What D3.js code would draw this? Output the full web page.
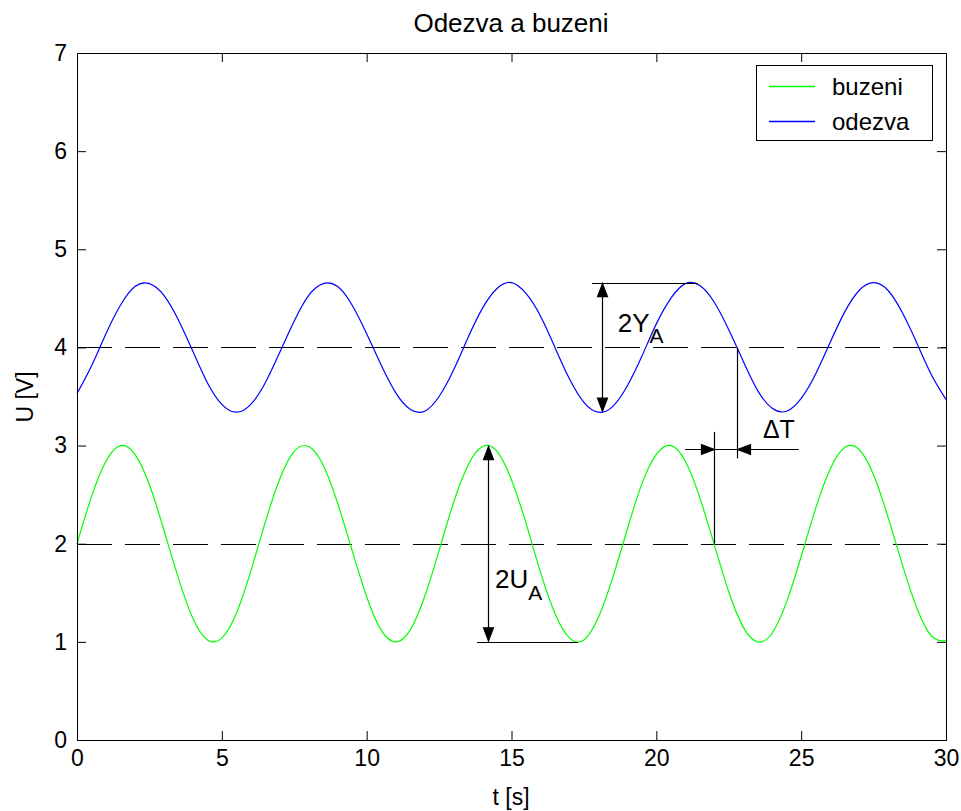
<!DOCTYPE html>
<html><head><meta charset="utf-8">
<script src="https://cdn.jsdelivr.net/npm/d3@7"></script>
<style>
body{margin:0;background:#fff}
svg{display:block}
text{font-family:"Liberation Sans",Arial,Helvetica,sans-serif;fill:#000}
</style>
</head><body>
<svg id="chart" width="961" height="811"></svg>
<script>
// ---------- data ----------
const time = [0,0.5,1,1.5,2,2.5,3,3.5,4,4.5,5,5.5,6,6.5,7,7.5,8,8.5,9,9.5,10,10.5,11,11.5,12,12.5,13,13.5,14,14.5,15,15.5,16,16.5,17,17.5,18,18.5,19,19.5,20,20.5,21,21.5,22,22.5,23,23.5,24,24.5,25,25.5,26,26.5,27,27.5,28,28.5,29,29.5,30];
const buzeni = [2.00,2.48,2.84,3.00,2.91,2.60,2.14,1.65,1.24,1.02,1.04,1.29,1.72,2.22,2.66,2.94,2.99,2.80,2.41,1.93,1.46,1.12,1.00,1.12,1.46,1.93,2.42,2.80,2.99,2.94,2.65,2.21,1.71,1.29,1.04,1.02,1.25,1.66,2.15,2.61,2.91,3.00,2.84,2.47,1.99,1.51,1.15,1.00,1.09,1.41,1.87,2.36,2.76,2.98,2.96,2.70,2.27,1.78,1.34,1.06,1.01];
const odezva = [3.53,3.81,4.14,4.43,4.62,4.65,4.53,4.28,3.96,3.64,3.42,3.34,3.42,3.64,3.95,4.27,4.53,4.65,4.62,4.43,4.14,3.82,3.54,3.37,3.35,3.50,3.77,4.10,4.40,4.60,4.66,4.55,4.32,4.00,3.68,3.44,3.34,3.40,3.61,3.91,4.24,4.50,4.65,4.63,4.46,4.18,3.86,3.56,3.38,3.35,3.48,3.73,4.05,4.36,4.58,4.66,4.58,4.35,4.04,3.72,3.47];
const seriesNames = ["buzeni", "odezva"];
const seriesColors = ["#00ff00", "#0000ff"];
const meanLevels = [4, 2];
const xTicks = [0, 5, 10, 15, 20, 25, 30];
const yTicks = [0, 1, 2, 3, 4, 5, 6, 7];
const titleText = "Odezva a buzeni";
const xLabel = "t [s]";
const yLabel = "U [V]";
// annotation geometry in data units
const ampY = {t: 18.12, lo: 3.34, hi: 4.66, lineFrom: 17.78, lineTo: 21.43};
const ampU = {t: 14.19, lo: 1.0, hi: 3.0, lineFrom: 13.81, lineTo: 17.29};
const delta = {t1: 21.99, t2: 22.78, v1top: 3.14, v2bot: 2.87, level: 2.96, from: 20.99, to: 24.92};

// ---------- drawing ----------
const svg = d3.select("#chart");
const x = d3.scaleLinear().domain([0, 30]).range([77, 946]);
const y = d3.scaleLinear().domain([0, 7]).range([740, 53]);
const fmt = d3.format("d");

const tick = 9;
const gx = svg.append("g").attr("transform", `translate(0,${y(0)})`)
  .call(d3.axisBottom(x).tickValues(xTicks).tickFormat(fmt).tickSizeInner(-tick).tickSizeOuter(0).tickPadding(10));
const gxt = svg.append("g").attr("transform", `translate(0,${y(7)})`)
  .call(d3.axisTop(x).tickValues(xTicks).tickSizeInner(-tick).tickSizeOuter(0).tickFormat(""));
const gy = svg.append("g").attr("transform", `translate(${x(0)},0)`)
  .call(d3.axisLeft(y).tickValues(yTicks).tickFormat(fmt).tickSizeInner(-tick).tickSizeOuter(0).tickPadding(10));
const gyr = svg.append("g").attr("transform", `translate(${x(30)},0)`)
  .call(d3.axisRight(y).tickValues(yTicks).tickSizeInner(-tick).tickSizeOuter(0).tickFormat(""));
[gx, gxt, gy, gyr].forEach(g => {
  g.select(".domain").remove();
  g.selectAll("line").attr("stroke", "#000");
  g.selectAll("text").style("font-size", "23px").attr("fill", "#000");
});

// dashed mean lines
svg.append("g").selectAll("line").data(meanLevels).join("line")
  .attr("x1", x(0)).attr("x2", x(30))
  .attr("y1", d => Math.round(y(d)) + 0.5).attr("y2", d => Math.round(y(d)) + 0.5)
  .attr("stroke", "#000").attr("stroke-width", 1).attr("stroke-dasharray", "35,13");

// series
const series = [buzeni, odezva];
const line = d3.line().x((d, i) => x(time[i])).y(d => y(d)).curve(d3.curveNatural);
svg.append("g").selectAll("path").data(series).join("path")
  .attr("d", d => line(d)).attr("fill", "none")
  .attr("stroke", (d, i) => seriesColors[i]).attr("stroke-width", 1.2);

// frame
svg.append("rect").attr("x", x(0) + 0.5).attr("y", y(7) + 0.5)
  .attr("width", x(30) - x(0)).attr("height", y(0) - y(7))
  .attr("fill", "none").attr("stroke", "#000").attr("stroke-width", 1);

// annotations
const ann = svg.append("g").attr("stroke", "#000").attr("stroke-width", 1.2);
function seg(x1, y1, x2, y2) {
  ann.append("line").attr("x1", x1).attr("y1", y1).attr("x2", x2).attr("y2", y2);
}
function arrow(px, py, dx, dy) {
  const L = 13, W = 5;
  const bx = px - dx * L, by = py - dy * L;
  const p = [[px, py], [bx - dy * W, by + dx * W], [bx + dy * W, by - dx * W]];
  ann.append("path").attr("d", "M" + p.map(q => q.join(",")).join("L") + "Z")
    .attr("fill", "#000").attr("stroke", "#000");
}
// 2Y_A
seg(x(ampY.lineFrom), Math.round(y(ampY.hi)) + 0.5, x(ampY.lineTo), Math.round(y(ampY.hi)) + 0.5);
seg(Math.round(x(ampY.t)) + 0.5, y(ampY.hi), Math.round(x(ampY.t)) + 0.5, y(ampY.lo));
arrow(Math.round(x(ampY.t)) + 0.5, y(ampY.hi) + 1, 0, -1);
arrow(Math.round(x(ampY.t)) + 0.5, y(ampY.lo) - 1, 0, 1);
// 2U_A
seg(x(ampU.lineFrom), Math.round(y(ampU.lo)) + 0.5, x(ampU.lineTo), Math.round(y(ampU.lo)) + 0.5);
seg(Math.round(x(ampU.t)) + 0.5, y(ampU.hi), Math.round(x(ampU.t)) + 0.5, y(ampU.lo));
arrow(Math.round(x(ampU.t)) + 0.5, y(ampU.hi) + 1, 0, -1);
arrow(Math.round(x(ampU.t)) + 0.5, y(ampU.lo) - 1, 0, 1);
// delta T
seg(Math.round(x(delta.t1)) + 0.5, y(2), Math.round(x(delta.t1)) + 0.5, y(delta.v1top));
seg(Math.round(x(delta.t2)) + 0.5, y(4), Math.round(x(delta.t2)) + 0.5, y(delta.v2bot));
const dl = Math.round(y(delta.level)) + 0.5;
seg(x(delta.from), dl, x(delta.to), dl);
arrow(Math.round(x(delta.t1)) + 0.5, dl, 1, 0);
arrow(Math.round(x(delta.t2)) + 0.5, dl, -1, 0);

// annotation texts
const t1 = svg.append("text").attr("x", x(18.67)).attr("y", y(4.157)).style("font-size", "26px").text("2Y");
t1.append("tspan").attr("dy", 11).style("font-size", "21px").text("A");
const t2 = svg.append("text").attr("x", x(14.43)).attr("y", y(1.55)).style("font-size", "26px").text("2U");
t2.append("tspan").attr("dy", 12).style("font-size", "21px").text("A");
svg.append("text").attr("x", x(23.68)).attr("y", y(3.08)).style("font-size", "25px").text("ΔT");

// title and axis labels
svg.append("text").attr("x", 511).attr("y", 32).attr("text-anchor", "middle").style("font-size", "26px").text(titleText);
svg.append("text").attr("x", 511).attr("y", 805).attr("text-anchor", "middle").style("font-size", "23px").text(xLabel);
svg.append("text").attr("transform", "translate(33,397) rotate(-90)").attr("text-anchor", "middle").style("font-size", "23px").text(yLabel);

// legend
const lg = svg.append("g");
lg.append("rect").attr("x", 756.5).attr("y", 65.5).attr("width", 176).attr("height", 75)
  .attr("fill", "#fff").attr("stroke", "#000").attr("stroke-width", 1);
const rowsY = [86, 121];
seriesNames.forEach((n, i) => {
  lg.append("line").attr("x1", 769).attr("x2", 815).attr("y1", rowsY[i] + 0.5).attr("y2", rowsY[i] + 0.5)
    .attr("stroke", seriesColors[i]).attr("stroke-width", 1.5);
  lg.append("text").attr("x", 832).attr("y", rowsY[i] + 9).style("font-size", "24px").text(n);
});
</script>
</body></html>
